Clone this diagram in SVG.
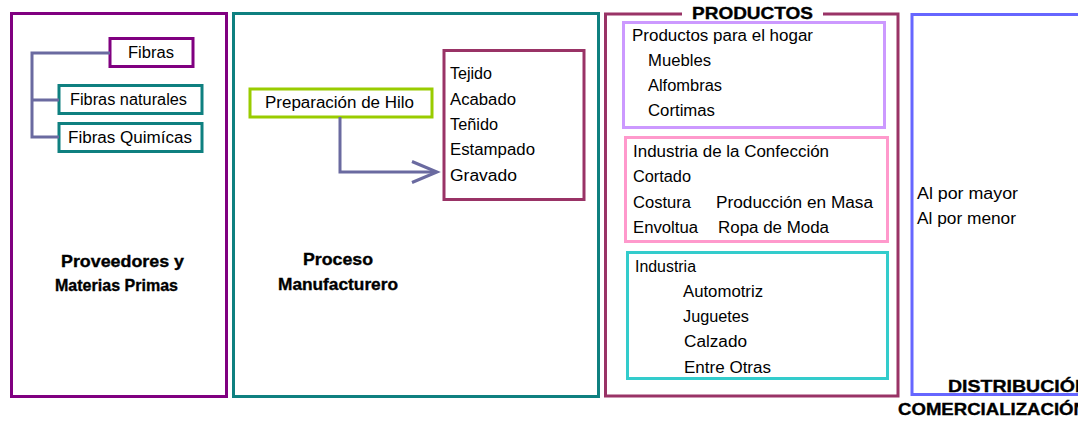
<svg xmlns="http://www.w3.org/2000/svg" width="1078" height="421" viewBox="0 0 1078 421">
<style>
  rect { fill: none; stroke-width: 3; }
  .t { font-family: "Liberation Sans", Arial, sans-serif; font-size: 16px; fill: #000; }
  .b { font-family: "Liberation Sans", Arial, sans-serif; font-size: 16.5px; font-weight: bold; fill: #000; stroke: #000; stroke-width: 0.35; }
  .con { fill: none; stroke: #6a6aa0; stroke-width: 3; }
</style>
<rect x="0" y="0" width="1078" height="421" style="fill:#fff;stroke:none"/>

<g id="proveedores">
  <rect x="11.5" y="13.5" width="215" height="383" stroke="#800080"/>
  <text class="b" x="61" y="267" textLength="123" lengthAdjust="spacingAndGlyphs">Proveedores y</text>
  <text class="b" x="55" y="291" textLength="123" lengthAdjust="spacingAndGlyphs">Materias Primas</text>
</g>
<g id="fibras">
  <rect x="110" y="38.5" width="83" height="28" stroke="#800080"/>
  <text class="t" x="128" y="58" textLength="46" lengthAdjust="spacingAndGlyphs">Fibras</text>
</g>
<g id="fibras-naturales">
  <rect x="59" y="85.5" width="143" height="28" stroke="#0f8080"/>
  <text class="t" x="70" y="105" textLength="117" lengthAdjust="spacingAndGlyphs">Fibras naturales</text>
</g>
<g id="fibras-quimicas">
  <rect x="59" y="123.5" width="143" height="28" stroke="#0f8080"/>
  <text class="t" x="68" y="143" textLength="124" lengthAdjust="spacingAndGlyphs">Fibras Quimícas</text>
</g>

<g id="proceso">
  <rect x="233.5" y="13.5" width="365" height="383" stroke="#0f8080"/>
  <text class="b" x="303" y="265" textLength="70" lengthAdjust="spacingAndGlyphs">Proceso</text>
  <text class="b" x="278" y="290" textLength="120" lengthAdjust="spacingAndGlyphs">Manufacturero</text>
</g>
<g id="preparacion">
  <rect x="250" y="89" width="182" height="28" stroke="#99cc00"/>
  <text class="t" x="265" y="108" textLength="149" lengthAdjust="spacingAndGlyphs">Preparación de Hilo</text>
</g>
<g id="tejido">
  <rect x="444" y="50.5" width="140" height="149" stroke="#993366"/>
  <text class="t" x="450" y="79" textLength="42" lengthAdjust="spacingAndGlyphs">Tejido</text>
  <text class="t" x="450" y="105" textLength="66" lengthAdjust="spacingAndGlyphs">Acabado</text>
  <text class="t" x="450" y="130" textLength="48" lengthAdjust="spacingAndGlyphs">Teñido</text>
  <text class="t" x="450" y="155" textLength="85" lengthAdjust="spacingAndGlyphs">Estampado</text>
  <text class="t" x="450" y="181" textLength="67" lengthAdjust="spacingAndGlyphs">Gravado</text>
</g>

<g id="productos">
  <path d="M682 14 H605.5 V396 H898 V14 H823" fill="none" stroke="#993366" stroke-width="3"/>
  <text class="b" x="692" y="18.5" textLength="121" lengthAdjust="spacingAndGlyphs">PRODUCTOS</text>
</g>
<g id="hogar">
  <rect x="623.5" y="22.5" width="261" height="105" stroke="#cc99ff"/>
  <text class="t" x="632" y="41" textLength="181" lengthAdjust="spacingAndGlyphs">Productos para el hogar</text>
  <text class="t" x="648" y="66" textLength="63" lengthAdjust="spacingAndGlyphs">Muebles</text>
  <text class="t" x="648" y="91" textLength="74" lengthAdjust="spacingAndGlyphs">Alfombras</text>
  <text class="t" x="648" y="116" textLength="67" lengthAdjust="spacingAndGlyphs">Cortimas</text>
</g>
<g id="confeccion">
  <rect x="625.5" y="137.5" width="262" height="104" stroke="#ff99cc"/>
  <text class="t" x="633" y="157" textLength="196" lengthAdjust="spacingAndGlyphs">Industria de la Confección</text>
  <text class="t" x="633" y="182" textLength="58" lengthAdjust="spacingAndGlyphs">Cortado</text>
  <text class="t" x="633" y="208" textLength="58" lengthAdjust="spacingAndGlyphs">Costura</text>
  <text class="t" x="716" y="208" textLength="157" lengthAdjust="spacingAndGlyphs">Producción en Masa</text>
  <text class="t" x="633" y="233" textLength="65" lengthAdjust="spacingAndGlyphs">Envoltua</text>
  <text class="t" x="718" y="233" textLength="111" lengthAdjust="spacingAndGlyphs">Ropa de Moda</text>
</g>
<g id="industria">
  <rect x="627.5" y="252.5" width="260" height="126" stroke="#33cccc"/>
  <text class="t" x="635" y="272" textLength="61" lengthAdjust="spacingAndGlyphs">Industria</text>
  <text class="t" x="683" y="297" textLength="80" lengthAdjust="spacingAndGlyphs">Automotriz</text>
  <text class="t" x="683" y="322" textLength="66" lengthAdjust="spacingAndGlyphs">Juguetes</text>
  <text class="t" x="684" y="347" textLength="63" lengthAdjust="spacingAndGlyphs">Calzado</text>
  <text class="t" x="684" y="373" textLength="87" lengthAdjust="spacingAndGlyphs">Entre Otras</text>
</g>

<g id="distribucion">
  <rect x="912" y="14.5" width="200" height="380" stroke="#6666ff"/>
  <text class="t" x="917" y="199" textLength="101" lengthAdjust="spacingAndGlyphs">Al por mayor</text>
  <text class="t" x="917" y="224" textLength="99" lengthAdjust="spacingAndGlyphs">Al por menor</text>
  <text class="b" x="948" y="392" textLength="141" lengthAdjust="spacingAndGlyphs">DISTRIBUCIÓN</text>
  <text class="b" x="898" y="415" textLength="189" lengthAdjust="spacingAndGlyphs">COMERCIALIZACIÓN</text>
</g>

<g id="connectors">
  <path class="con" d="M110 53 H32 V137 H59 M32 100 H59"/>
  <path class="con" d="M340 117 V172 H436"/>
  <path class="con" d="M412 161.5 L437 172 L412 182.5"/>
</g>
</svg>
